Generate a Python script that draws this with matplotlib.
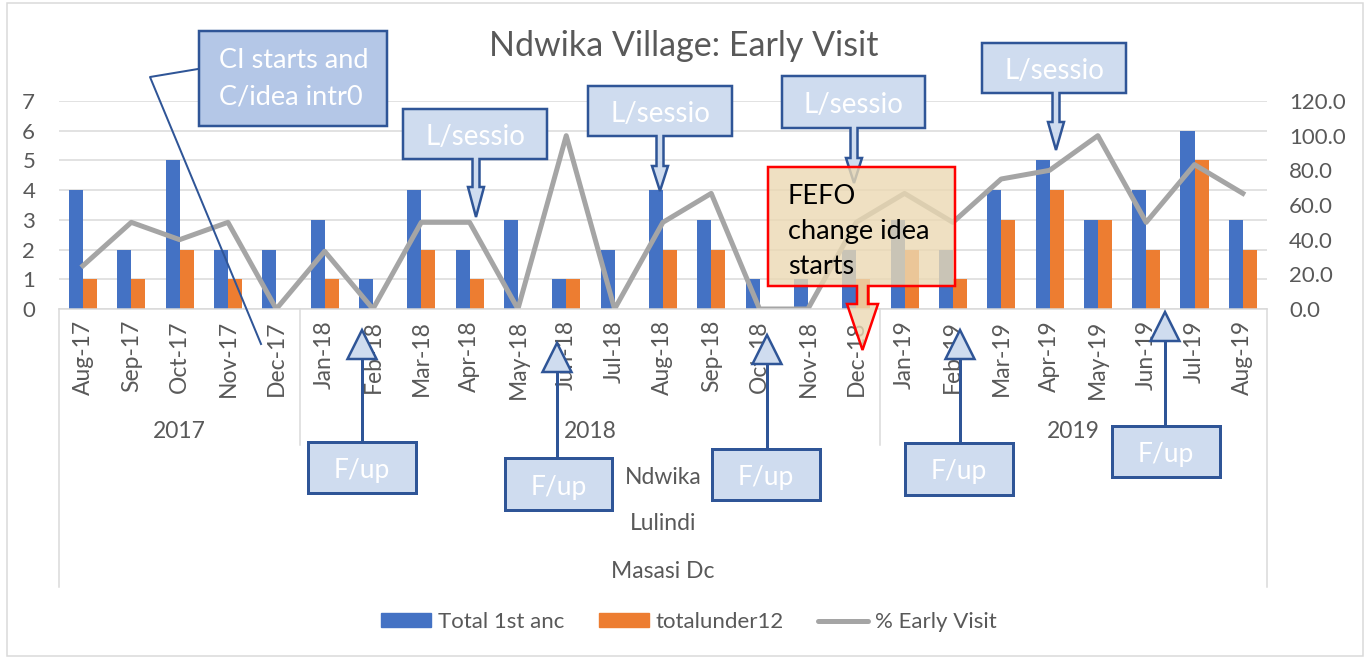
import matplotlib
matplotlib.use("Agg")
import matplotlib.pyplot as plt
import numpy as np
from matplotlib.patches import Rectangle, Polygon
from matplotlib.lines import Line2D
from matplotlib.transforms import Affine2D

plt.rcParams['font.family'] = ['Lato', 'DejaVu Sans']

# ---------------- data ----------------
months = ["Aug-17", "Sep-17", "Oct-17", "Nov-17", "Dec-17",
          "Jan-18", "Feb-18", "Mar-18", "Apr-18", "May-18", "Jun-18", "Jul-18",
          "Aug-18", "Sep-18", "Oct-18", "Nov-18", "Dec-18",
          "Jan-19", "Feb-19", "Mar-19", "Apr-19", "May-19", "Jun-19", "Jul-19", "Aug-19"]
years = ["2017", "2018", "2019"]
year_counts = [5, 12, 8]
group_levels = ["Ndwika", "Lulindi", "Masasi Dc"]
total_1st_anc = [4, 2, 5, 2, 2, 3, 1, 4, 2, 3, 1, 2, 4, 3, 1, 1, 2, 3, 2, 4, 5, 3, 4, 6, 3]
total_under12 = [1, 1, 2, 1, 0, 1, 0, 2, 1, 0, 1, 0, 2, 2, 0, 0, 1, 2, 1, 3, 4, 3, 2, 5, 2]
pct_early = [25.0, 50.0, 40.0, 50.0, 0.0, 33.3, 0.0, 50.0, 50.0, 0.0, 100.0, 0.0,
             50.0, 66.7, 0.0, 0.0, 50.0, 66.7, 50.0, 75.0, 80.0, 100.0, 50.0, 83.3, 66.7]
left_ticks = list(range(0, 8))
right_ticks = [0, 20, 40, 60, 80, 100, 120]
title = "Ndwika Village: Early Visit"
series_names = ["Total 1st anc", "totalunder12", "% Early Visit"]

BLUE = "#4472c4"
ORANGE = "#ed7d31"
GRAY = "#a5a5a5"
TXT = "#595959"
GRID = "#d9d9d9"
DARKBLUE = "#2f5597"

W, H = 1369, 659
fig = plt.figure(figsize=(W / 100, H / 100), dpi=100)
pix = Affine2D().scale(1.0 / W, -1.0 / H).translate(0, 1) + fig.transFigure
PX = 0.72  # points per pixel

# plot area in pixels
L, R, T, B = 58.8, 1267.0, 101.0, 309.0
ax = fig.add_axes([L / W, 1 - B / H, (R - L) / W, (B - T) / H])
ax2 = ax.twinx()

x = np.arange(len(months))
bw = 0.29
ax.bar(x - bw / 2, total_1st_anc, width=bw, color=BLUE, zorder=3)
ax.bar(x + bw / 2, total_under12, width=bw, color=ORANGE, zorder=3)
ax2.plot(x, pct_early, color=GRAY, lw=5 * PX, zorder=4)

ax.set_xlim(-0.5, len(months) - 0.5)
ax.set_ylim(0, 7)
ax2.set_ylim(0, 120)
ax.set_yticks(left_ticks)
ax2.set_yticks(right_ticks)
ax2.set_yticklabels([f"{v:.1f}" for v in right_ticks])
ax.yaxis.grid(True, color=GRID, lw=1.5 * PX, zorder=0)
ax.set_axisbelow(True)
for a in (ax, ax2):
    for s in a.spines.values():
        s.set_visible(False)
ax.tick_params(axis='y', length=0, pad=17, labelsize=16, labelcolor=TXT)
ax2.tick_params(axis='y', length=0, pad=16, labelsize=16, labelcolor=TXT)
ax.set_xticks(x)
ax.set_xticklabels(months, rotation=90)
ax.tick_params(axis='x', length=0, pad=8, labelsize=16.5, labelcolor=TXT)

# category axis frame lines
def fline(xs, ys, color, lw, z=1.5, **kw):
    fig.add_artist(Line2D(xs, ys, color=color, lw=lw * PX, transform=pix, zorder=z, **kw))

fline([L, R], [B, B], GRID, 1.5)
fline([L, L], [B, 587], GRID, 1.5)
fline([R, R], [B, 587], GRID, 1.5)
step = (R - L) / len(months)
cum = np.cumsum(year_counts)
for c in cum[:-1]:
    xp = L + c * step
    fline([xp, xp], [B, 445], GRID, 1.5)
starts = np.concatenate([[0], cum[:-1]])
for yr, s0, n in zip(years, starts, year_counts):
    cx = L + (s0 + n / 2) * step
    fig.text(cx, 432, yr, transform=pix, ha='center', va='center', fontsize=16.5, color=TXT)
gcx = (L + R) / 2
for lab, yy in zip(group_levels, [478, 524, 571]):
    fig.text(gcx, yy, lab, transform=pix, ha='center', va='center', fontsize=16.5, color=TXT)

# title
fig.text(684, 46, title, transform=pix, ha='center', va='center', fontsize=24.5, color=TXT)

# figure border
fig.add_artist(Rectangle((6.5, 3), 1356, 653, transform=pix, fill=False,
                         edgecolor=GRID, lw=1.5 * PX, zorder=0.5))

# legend
handles = [Rectangle((0, 0), 1, 1, color=BLUE), Rectangle((0, 0), 1, 1, color=ORANGE),
           Line2D([0], [0], color=GRAY, lw=5 * PX, solid_capstyle='round')]
fig.legend(handles, series_names, loc='center', bbox_to_anchor=(689 / W, 1 - 622 / H),
           ncol=3, frameon=False, fontsize=16, handlelength=2.25, handleheight=0.58,
           handletextpad=0.3, columnspacing=1.55, labelcolor=TXT)

# ---------------- annotations ----------------
LIGHT = "#cfdcef"
MID = "#b4c7e7"

def callout_down(x0, x1, y0, y1, ax_, sw, hw, htop, tip, fc, ec, lw, z=5):
    pts = [(x0, y0), (x1, y0), (x1, y1), (ax_ + sw / 2, y1), (ax_ + sw / 2, htop),
           (ax_ + hw / 2, htop), (ax_, tip), (ax_ - hw / 2, htop), (ax_ - sw / 2, htop),
           (ax_ - sw / 2, y1), (x0, y1)]
    fig.add_artist(Polygon(pts, closed=True, transform=pix, facecolor=fc, edgecolor=ec,
                           lw=lw * PX, zorder=z, joinstyle='miter'))

# L/sessio callouts
lsess = [(403, 547, 109, 159, 476, 187, 217),
         (588, 732, 86, 136, 660, 166, 191),
         (782, 925, 76, 128, 854, 158, 183),
         (982, 1126, 43, 93, 1056, 122, 150)]
for (x0, x1, y0, y1, axp, ht, tp) in lsess:
    callout_down(x0, x1, y0, y1, axp, 7, 16, ht, tp, LIGHT, DARKBLUE, 2.5)
    fig.text((x0 + x1) / 2, (y0 + y1) / 2 + 3, "L/sessio", transform=pix, ha='center',
             va='center', fontsize=20, color='white', zorder=6)

# FEFO callout
callout_down(768, 955, 167, 286, 862.5, 11, 31, 304, 350,
             (0.92, 0.85, 0.70, 0.8), "#ff0000", 2.5)
for txt, yy in zip(["FEFO", "change idea", "starts"], [197, 232, 267]):
    fig.text(788, yy, txt, transform=pix, ha='left', va='center', fontsize=19.5,
             color='black', zorder=6)

# CI callout
fline([198, 150, 261], [69, 77, 344], DARKBLUE, 2, z=5)
fig.add_artist(Rectangle((199, 31), 188, 95, transform=pix, facecolor=MID,
                         edgecolor=DARKBLUE, lw=2.5 * PX, zorder=5))
for txt, yy in zip(["CI starts and", "C/idea intr0"], [61, 97]):
    fig.text(219, yy, txt, transform=pix, ha='left', va='center', fontsize=19.5,
             color='white', zorder=6)

# F/up callouts
fups = [(308, 416, 442, 493, 362, 330),
        (505, 612, 458, 510, 557, 343),
        (712, 820, 449, 500, 767, 335),
        (905, 1013, 443, 495, 960, 330),
        (1112, 1220, 426, 477, 1165, 312)]
for (x0, x1, y0, y1, ax_, tip) in fups:
    hb = tip + 29
    fline([ax_, ax_], [y0, hb], DARKBLUE, 3, z=5)
    fig.add_artist(Polygon([(ax_ - 14.5, hb), (ax_, tip), (ax_ + 14.5, hb)], closed=True,
                           transform=pix, facecolor=LIGHT, edgecolor=DARKBLUE,
                           lw=2.5 * PX, zorder=5))
    fig.add_artist(Rectangle((x0, y0), x1 - x0, y1 - y0, transform=pix, facecolor=LIGHT,
                             edgecolor=DARKBLUE, lw=3 * PX, zorder=5))
    fig.text((x0 + x1) / 2, (y0 + y1) / 2 + 3, "F/up", transform=pix, ha='center',
             va='center', fontsize=19, color='white', zorder=6)

fig.savefig("out.png", dpi=100)
